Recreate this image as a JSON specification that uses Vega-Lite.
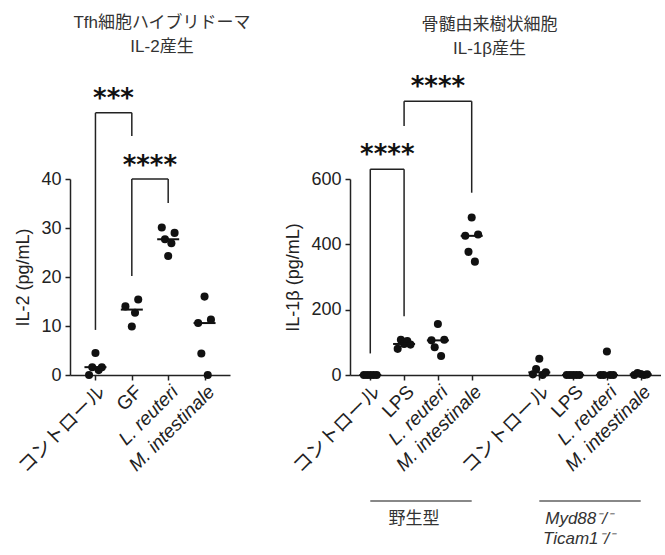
{
  "$schema": "https://vega.github.io/schema/vega-lite/v6.json",
  "padding": {"left": 14, "top": 13, "right": 0, "bottom": 0},
  "config": {
    "font": "Liberation Sans, Noto Sans CJK JP",
    "view": {"stroke": null},
    "axis": {
      "domainColor": "#222", "tickColor": "#222", "labelColor": "#222", "titleColor": "#222",
      "labelFontSize": 18, "titleFontSize": 18, "titleFontWeight": "normal",
      "grid": false, "domainWidth": 1.5, "tickWidth": 1.5, "tickSize": 5
    },
    "axisX": {"labelFontSize": 19},
    "title": {"fontSize": 17, "fontWeight": "normal", "color": "#333", "lineHeight": 24, "anchor": "middle"}
  },
  "datasets": {
    "pts": [
      {"p": "A", "c": "コントロール", "r": 1, "v": 0},
      {"p": "A", "c": "コントロール", "r": 2, "v": 1.6},
      {"p": "A", "c": "コントロール", "r": 3, "v": 4.5},
      {"p": "A", "c": "コントロール", "r": 4, "v": 1.0},
      {"p": "A", "c": "コントロール", "r": 5, "v": 1.6},
      {"p": "A", "c": "GF", "r": 1, "v": 14.0},
      {"p": "A", "c": "GF", "r": 3, "v": 9.9},
      {"p": "A", "c": "GF", "r": 4, "v": 12.7},
      {"p": "A", "c": "GF", "r": 5, "v": 15.4},
      {"p": "A", "c": "L. reuteri", "r": 1, "v": 30.1},
      {"p": "A", "c": "L. reuteri", "r": 2, "v": 27.7},
      {"p": "A", "c": "L. reuteri", "r": 3, "v": 24.3},
      {"p": "A", "c": "L. reuteri", "r": 4, "v": 26.9},
      {"p": "A", "c": "L. reuteri", "r": 5, "v": 29.0},
      {"p": "A", "c": "M. intestinale", "r": 1, "v": 10.6},
      {"p": "A", "c": "M. intestinale", "r": 2, "v": 4.4},
      {"p": "A", "c": "M. intestinale", "r": 3, "v": 16.0},
      {"p": "A", "c": "M. intestinale", "r": 4, "v": 0},
      {"p": "A", "c": "M. intestinale", "r": 5, "v": 11.3},
      {"p": "B", "c": "WT|コントロール", "r": 1, "v": 0},
      {"p": "B", "c": "WT|コントロール", "r": 2, "v": 0},
      {"p": "B", "c": "WT|コントロール", "r": 3, "v": 0},
      {"p": "B", "c": "WT|コントロール", "r": 4, "v": 0},
      {"p": "B", "c": "WT|コントロール", "r": 5, "v": 0},
      {"p": "B", "c": "WT|LPS", "r": 1, "v": 80},
      {"p": "B", "c": "WT|LPS", "r": 2, "v": 108},
      {"p": "B", "c": "WT|LPS", "r": 3, "v": 95},
      {"p": "B", "c": "WT|LPS", "r": 4, "v": 104},
      {"p": "B", "c": "WT|LPS", "r": 5, "v": 93},
      {"p": "B", "c": "WT|L. reuteri", "r": 1, "v": 106},
      {"p": "B", "c": "WT|L. reuteri", "r": 2, "v": 85},
      {"p": "B", "c": "WT|L. reuteri", "r": 3, "v": 156},
      {"p": "B", "c": "WT|L. reuteri", "r": 4, "v": 58},
      {"p": "B", "c": "WT|L. reuteri", "r": 5, "v": 108},
      {"p": "B", "c": "WT|M. intestinale", "r": 1, "v": 426},
      {"p": "B", "c": "WT|M. intestinale", "r": 2, "v": 377},
      {"p": "B", "c": "WT|M. intestinale", "r": 3, "v": 482},
      {"p": "B", "c": "WT|M. intestinale", "r": 4, "v": 347},
      {"p": "B", "c": "WT|M. intestinale", "r": 5, "v": 430},
      {"p": "B", "c": "KO|コントロール", "r": 1, "v": 2},
      {"p": "B", "c": "KO|コントロール", "r": 2, "v": 18},
      {"p": "B", "c": "KO|コントロール", "r": 3, "v": 50},
      {"p": "B", "c": "KO|コントロール", "r": 4, "v": 0},
      {"p": "B", "c": "KO|コントロール", "r": 5, "v": 8},
      {"p": "B", "c": "KO|LPS", "r": 1, "v": 0},
      {"p": "B", "c": "KO|LPS", "r": 2, "v": 0},
      {"p": "B", "c": "KO|LPS", "r": 3, "v": 0},
      {"p": "B", "c": "KO|LPS", "r": 4, "v": 0},
      {"p": "B", "c": "KO|LPS", "r": 5, "v": 0},
      {"p": "B", "c": "KO|L. reuteri", "r": 1, "v": 0},
      {"p": "B", "c": "KO|L. reuteri", "r": 2, "v": 0},
      {"p": "B", "c": "KO|L. reuteri", "r": 3, "v": 72},
      {"p": "B", "c": "KO|L. reuteri", "r": 4, "v": 0},
      {"p": "B", "c": "KO|L. reuteri", "r": 5, "v": 0},
      {"p": "B", "c": "KO|M. intestinale", "r": 1, "v": 0},
      {"p": "B", "c": "KO|M. intestinale", "r": 2, "v": 6},
      {"p": "B", "c": "KO|M. intestinale", "r": 3, "v": 3},
      {"p": "B", "c": "KO|M. intestinale", "r": 4, "v": 0},
      {"p": "B", "c": "KO|M. intestinale", "r": 5, "v": 2}
    ],
    "br": [
      {"p": "A", "k": "adj", "a": "コントロール", "b": "GF", "m": "コントロール", "top": 53.5, "l": 9.2, "rr": 48.8, "s": "***", "sy": 54.7},
      {"p": "A", "k": "adj", "a": "GF", "b": "L. reuteri", "m": "GF", "top": 40, "l": 20.2, "rr": 35.1, "s": "****", "sy": 41},
      {"p": "B", "k": "adj", "a": "WT|コントロール", "b": "WT|LPS", "m": "WT|コントロール", "top": 630, "l": 66, "rr": 180, "s": "****", "sy": 650},
      {"p": "B", "k": "wide", "a": "WT|LPS", "b": "WT|M. intestinale", "m": "WT|L. reuteri", "top": 838, "l": 762, "rr": 558, "s": "****", "sy": 857}
    ],
    "grp": [
      {"g": "WT", "a": "WT|コントロール", "b": "WT|M. intestinale", "m": "WT|LPS", "t": "野生型"},
      {"g": "KO", "a": "KO|コントロール", "b": "KO|M. intestinale", "m": "KO|LPS", "t": "Myd88⁻/⁻\nTicam1⁻/⁻"}
    ]
  },
  "spacing": 33,
  "resolve": {"scale": {"x": "independent", "y": "independent"}},
  "hconcat": [
    {
      "title": {"text": ["Tfh細胞ハイブリドーマ", "IL-2産生"], "frame": "group", "dx": 12, "offset": 30},
      "width": 160,
      "height": 196,
      "layer": [
        {
          "data": {"name": "pts"},
          "transform": [{"filter": "datum.p == 'A'"}],
          "mark": {"type": "circle", "size": 65, "opacity": 1, "color": "#111"},
          "encoding": {
            "x": {
              "field": "c", "type": "nominal",
              "scale": {"type": "point", "domain": ["コントロール", "GF", "L. reuteri", "M. intestinale"], "padding": 0.7},
              "axis": {
                "title": null, "labelAngle": -45,
                "labelFontStyle": {"condition": {"test": "indexof(datum.value, '.') >= 0", "value": "italic"}, "value": "normal"}
              }
            },
            "xOffset": {"field": "r", "type": "nominal", "scale": {"type": "point", "range": [-8, 8]}},
            "y": {
              "field": "v", "type": "quantitative",
              "scale": {"domain": [0, 40], "nice": false},
              "axis": {"title": "IL-2 (pg/mL)", "values": [0, 10, 20, 30, 40], "labelPadding": 4, "titlePadding": 8}
            }
          }
        },
        {
          "data": {"name": "pts"},
          "transform": [{"filter": "datum.p == 'A'"}],
          "mark": {"type": "tick", "orient": "horizontal", "size": 22, "thickness": 2, "color": "#111"},
          "encoding": {
            "x": {"field": "c", "type": "nominal"},
            "y": {"aggregate": "median", "field": "v", "type": "quantitative"}
          }
        },
        {
          "data": {"name": "br"},
          "transform": [{"filter": "datum.p == 'A'"}],
          "mark": {"type": "rule", "strokeWidth": 1.5, "color": "#222"},
          "encoding": {
            "x": {"field": "a", "type": "nominal"},
            "x2": {"field": "b"},
            "y": {"field": "top", "type": "quantitative"}
          }
        },
        {
          "data": {"name": "br"},
          "transform": [{"filter": "datum.p == 'A'"}],
          "mark": {"type": "rule", "strokeWidth": 1.5, "color": "#222"},
          "encoding": {
            "x": {"field": "a", "type": "nominal"},
            "y": {"field": "l", "type": "quantitative"},
            "y2": {"field": "top"}
          }
        },
        {
          "data": {"name": "br"},
          "transform": [{"filter": "datum.p == 'A'"}],
          "mark": {"type": "rule", "strokeWidth": 1.5, "color": "#222"},
          "encoding": {
            "x": {"field": "b", "type": "nominal"},
            "y": {"field": "rr", "type": "quantitative"},
            "y2": {"field": "top"}
          }
        },
        {
          "data": {"name": "br"},
          "transform": [{"filter": "datum.p == 'A'"}],
          "mark": {"type": "text", "font": "DejaVu Sans", "fontWeight": "bold", "fontSize": 26, "dx": 18, "baseline": "alphabetic", "color": "#111"},
          "encoding": {
            "x": {"field": "m", "type": "nominal"},
            "y": {"field": "sy", "type": "quantitative"},
            "text": {"field": "s", "type": "nominal"}
          }
        }
      ]
    },
    {
      "spacing": 14,
      "resolve": {"scale": {"x": "shared"}},
      "vconcat": [
        {
          "title": {"text": ["骨髄由来樹状細胞", "IL-1β産生"], "frame": "group", "dx": -16, "offset": 16},
          "width": 311,
          "height": 196,
          "layer": [
            {
              "data": {"name": "pts"},
              "transform": [{"filter": "datum.p == 'B'"}],
              "mark": {"type": "circle", "size": 65, "opacity": 1, "color": "#111"},
              "encoding": {
                "x": {
                  "field": "c", "type": "nominal",
                  "scale": {"type": "point", "domain": ["WT|コントロール", "WT|LPS", "WT|L. reuteri", "WT|M. intestinale", "gap", "KO|コントロール", "KO|LPS", "KO|L. reuteri", "KO|M. intestinale"], "padding": 0.6},
                  "axis": {
                    "title": null, "labelAngle": -45,
                    "labelExpr": "datum.value == 'gap' ? '' : split(datum.value, '|')[1]",
                    "tickOpacity": {"condition": {"test": "datum.value == 'gap'", "value": 0}, "value": 1},
                    "labelFontStyle": {"condition": {"test": "indexof(datum.value, '.') >= 0", "value": "italic"}, "value": "normal"}
                  }
                },
                "xOffset": {"field": "r", "type": "nominal", "scale": {"type": "point", "range": [-8, 8]}},
                "y": {
                  "field": "v", "type": "quantitative",
                  "scale": {"domain": [0, 600], "nice": false},
                  "axis": {"title": "IL-1β (pg/mL)", "values": [0, 200, 400, 600], "labelPadding": 4, "titlePadding": 8}
                }
              }
            },
            {
              "data": {"name": "pts"},
              "transform": [{"filter": "datum.p == 'B'"}],
              "mark": {"type": "tick", "orient": "horizontal", "size": 22, "thickness": 2, "color": "#111"},
              "encoding": {
                "x": {"field": "c", "type": "nominal"},
                "y": {"aggregate": "median", "field": "v", "type": "quantitative"}
              }
            },
            {
              "data": {"name": "br"},
              "transform": [{"filter": "datum.p == 'B'"}],
              "mark": {"type": "rule", "strokeWidth": 1.5, "color": "#222"},
              "encoding": {
                "x": {"field": "a", "type": "nominal"},
                "x2": {"field": "b"},
                "y": {"field": "top", "type": "quantitative"}
              }
            },
            {
              "data": {"name": "br"},
              "transform": [{"filter": "datum.p == 'B'"}],
              "mark": {"type": "rule", "strokeWidth": 1.5, "color": "#222"},
              "encoding": {
                "x": {"field": "a", "type": "nominal"},
                "y": {"field": "l", "type": "quantitative"},
                "y2": {"field": "top"}
              }
            },
            {
              "data": {"name": "br"},
              "transform": [{"filter": "datum.p == 'B'"}],
              "mark": {"type": "rule", "strokeWidth": 1.5, "color": "#222"},
              "encoding": {
                "x": {"field": "b", "type": "nominal"},
                "y": {"field": "rr", "type": "quantitative"},
                "y2": {"field": "top"}
              }
            },
            {
              "data": {"name": "br"},
              "transform": [{"filter": "datum.p == 'B' && datum.k == 'adj'"}],
              "mark": {"type": "text", "font": "DejaVu Sans", "fontWeight": "bold", "fontSize": 26, "dx": 17, "baseline": "alphabetic", "color": "#111"},
              "encoding": {
                "x": {"field": "m", "type": "nominal"},
                "y": {"field": "sy", "type": "quantitative"},
                "text": {"field": "s", "type": "nominal"}
              }
            },
            {
              "data": {"name": "br"},
              "transform": [{"filter": "datum.p == 'B' && datum.k == 'wide'"}],
              "mark": {"type": "text", "font": "DejaVu Sans", "fontWeight": "bold", "fontSize": 26, "baseline": "alphabetic", "color": "#111"},
              "encoding": {
                "x": {"field": "m", "type": "nominal"},
                "y": {"field": "sy", "type": "quantitative"},
                "text": {"field": "s", "type": "nominal"}
              }
            }
          ]
        },
        {
          "width": 311,
          "height": 20,
          "data": {"name": "grp"},
          "layer": [
            {
              "mark": {"type": "rule", "color": "#888", "strokeWidth": 2},
              "encoding": {
                "x": {"field": "a", "type": "nominal", "axis": null},
                "x2": {"field": "b"}
              }
            },
            {
              "transform": [{"filter": "datum.g == 'WT'"}],
              "mark": {"type": "text", "baseline": "top", "dx": 10, "dy": 10, "fontSize": 17, "color": "#333"},
              "encoding": {
                "x": {"field": "m", "type": "nominal", "axis": null},
                "text": {"field": "t", "type": "nominal"}
              }
            },
            {
              "transform": [{"filter": "datum.g == 'KO'"}],
              "mark": {"type": "text", "baseline": "top", "dx": 6, "dy": 10, "fontSize": 17, "fontStyle": "italic", "lineBreak": "\n", "lineHeight": 20, "color": "#333"},
              "encoding": {
                "x": {"field": "m", "type": "nominal", "axis": null},
                "text": {"field": "t", "type": "nominal"}
              }
            }
          ]
        }
      ]
    }
  ]
}
